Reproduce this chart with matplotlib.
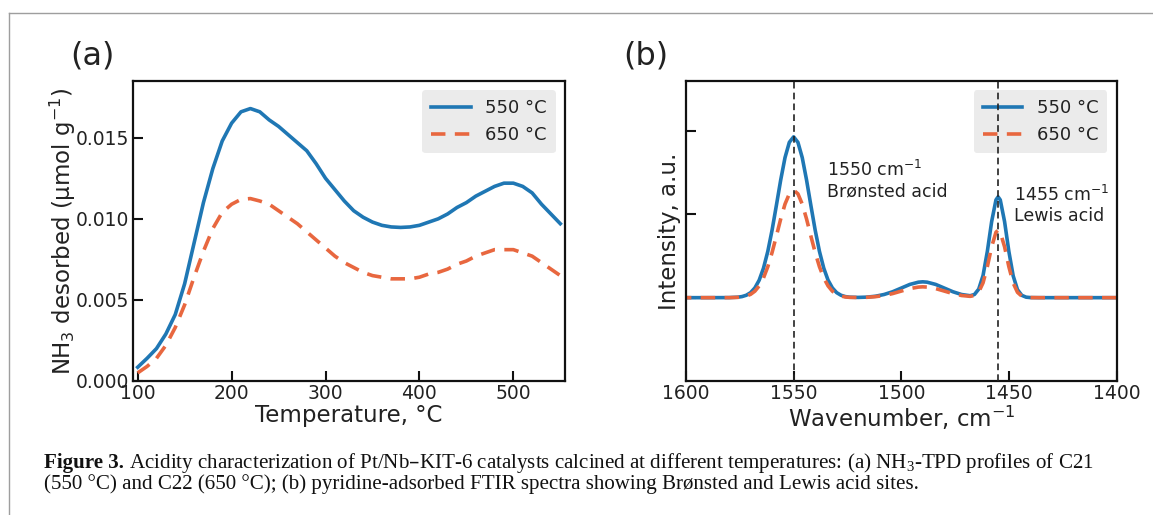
import matplotlib
matplotlib.use("Agg")
import matplotlib.pyplot as plt
from matplotlib.lines import Line2D

# ---------------- data: panel (a) NH3-TPD ----------------
temp = [100, 110, 120, 130, 140, 150, 160, 170, 180, 190, 200, 210, 220, 230,
        240, 250, 260, 270, 280, 290, 300, 310, 320, 330, 340, 350, 360, 370,
        380, 390, 400, 410, 420, 430, 440, 450, 460, 470, 480, 490, 500, 510,
        520, 530, 540, 550]
nh3_550 = [0.00085, 0.0014, 0.0020, 0.0029, 0.0041, 0.0060, 0.0085, 0.0110,
           0.0131, 0.0148, 0.0159, 0.0166, 0.0168, 0.0166, 0.0161, 0.0157,
           0.0152, 0.0147, 0.0142, 0.0134, 0.0125, 0.0118, 0.0111, 0.0105,
           0.0101, 0.0098, 0.0096, 0.0095, 0.00947, 0.0095, 0.0096, 0.0098,
           0.0100, 0.0103, 0.0107, 0.0110, 0.0114, 0.0117, 0.0120, 0.0122,
           0.0122, 0.0120, 0.0116, 0.0109, 0.0103, 0.0097]
nh3_650 = [0.0005, 0.0009, 0.0014, 0.0022, 0.0033, 0.0047, 0.0064, 0.0080,
           0.0094, 0.0104, 0.0109, 0.0112, 0.01125, 0.0111, 0.0109, 0.0105,
           0.0101, 0.0097, 0.0092, 0.0087, 0.0082, 0.0077, 0.0073, 0.0070,
           0.0067, 0.0065, 0.0064, 0.0063, 0.0063, 0.0063, 0.0064, 0.0066,
           0.0067, 0.0069, 0.0072, 0.0074, 0.0077, 0.0079, 0.0081, 0.0081,
           0.0081, 0.0079, 0.0077, 0.0073, 0.0069, 0.0065]

# ---------------- data: panel (b) pyridine FTIR ----------------
wavenumber = [1400, 1420, 1430, 1436, 1440, 1442, 1444, 1446, 1448, 1450,
              1452, 1454, 1455, 1456, 1458, 1460, 1462, 1464, 1466, 1468,
              1472, 1476, 1480, 1484, 1488, 1490, 1492, 1496, 1500, 1504,
              1508, 1512, 1516, 1520, 1524, 1526, 1528, 1530, 1532, 1534,
              1536, 1538, 1540, 1542, 1544, 1546, 1548, 1550, 1552, 1554,
              1556, 1558, 1560, 1562, 1564, 1566, 1568, 1570, 1572, 1574,
              1576, 1580, 1590, 1600]
ir_550 = [0, 0, 0, 0, 0.001, 0.006, 0.028, 0.096, 0.262, 0.554,
          0.913, 1.173, 1.21, 1.173, 0.913, 0.556, 0.266, 0.103, 0.038, 0.023,
          0.038, 0.071, 0.115, 0.159, 0.186, 0.19, 0.186, 0.159, 0.115, 0.071,
          0.038, 0.017, 0.0065, 0.003, 0.0056, 0.013, 0.029, 0.060, 0.117, 0.210,
          0.354, 0.555, 0.812, 1.109, 1.413, 1.681, 1.864, 1.93, 1.864, 1.681,
          1.413, 1.109, 0.812, 0.555, 0.354, 0.210, 0.117, 0.060, 0.029, 0.013,
          0.0056, 0.0008, 0, 0]
ir_650 = [0, 0, 0, 0, 0.001, 0.004, 0.018, 0.064, 0.175, 0.371,
          0.611, 0.785, 0.81, 0.785, 0.611, 0.372, 0.178, 0.068, 0.026, 0.016,
          0.026, 0.049, 0.079, 0.109, 0.127, 0.13, 0.127, 0.109, 0.079, 0.049,
          0.026, 0.012, 0.0044, 0.002, 0.0037, 0.0088, 0.0195, 0.040, 0.078, 0.141,
          0.237, 0.371, 0.543, 0.741, 0.945, 1.123, 1.246, 1.29, 1.246, 1.123,
          0.945, 0.741, 0.543, 0.371, 0.237, 0.141, 0.078, 0.040, 0.0195, 0.0088,
          0.0037, 0.0005, 0, 0]
band_positions = [1550, 1455]
series_labels = ["550 °C", "650 °C"]

BLUE = "#1f77b4"
ORANGE = "#e8673f"
TXT = "#222222"
DASH = (0, (4.0, 2.6))

plt.rcParams["font.family"] = ["DejaVu Sans"]
W, H = 1153, 515
fig = plt.figure(figsize=(W / 100, H / 100), dpi=100)


def style_axes(ax):
    for s in ax.spines.values():
        s.set_linewidth(1.6)
        s.set_color("#111111")
    ax.tick_params(direction="in", length=7, width=1.5, labelsize=13.5,
                   colors="#111111", labelcolor=TXT, pad=2.5)


def add_legend(ax):
    leg = ax.legend(loc="upper right", fontsize=13, frameon=True,
                    facecolor="#ebebeb", edgecolor="none", framealpha=1.0,
                    fancybox=True, handlelength=2.2, borderpad=0.5)
    for t in leg.get_texts():
        t.set_color(TXT)
    return leg


# panel (a)
axA = fig.add_axes([133 / W, 1 - 381 / H, (565 - 133) / W, 300 / H])
axA.plot(temp, nh3_550, color=BLUE, lw=2.6, label=series_labels[0])
axA.plot(temp, nh3_650, color=ORANGE, lw=2.6, ls=DASH, label=series_labels[1])
axA.set_xlim(95, 555)
axA.set_ylim(0, 0.0185)
axA.set_xticks([100, 200, 300, 400, 500])
axA.set_yticks([0.0, 0.005, 0.010, 0.015])
axA.set_yticklabels(["0.000", "0.005", "0.010", "0.015"])
axA.set_xlabel("Temperature, °C", fontsize=16.5, color=TXT, labelpad=0.5)
axA.set_ylabel("NH$_3$ desorbed (μmol g$^{-1}$)", fontsize=16.5, color=TXT, labelpad=-1)
style_axes(axA)
add_legend(axA)

# panel (b)
axB = fig.add_axes([686 / W, 1 - 381 / H, (1116.5 - 686) / W, 300 / H])
axB.plot(wavenumber, ir_550, color=BLUE, lw=2.6, label=series_labels[0])
axB.plot(wavenumber, ir_650, color=ORANGE, lw=2.6, ls=DASH, label=series_labels[1])
for b in band_positions:
    axB.axvline(b, color="#222222", lw=1.2, ls=(0, (4, 2.5)), zorder=6)
axB.set_xlim(1600, 1400)
axB.set_ylim(-1.0, 2.6)
axB.set_xticks([1600, 1550, 1500, 1450, 1400])
axB.set_yticks([0, 1, 2])
axB.set_yticklabels([])
axB.set_xlabel("Wavenumber, cm$^{-1}$", fontsize=16.5, color=TXT, labelpad=0.5)
axB.set_ylabel("Intensity, a.u.", fontsize=16.5, color=TXT, labelpad=1)
style_axes(axB)
add_legend(axB)
axB.text(1534.6, 1.65, "1550 cm$^{-1}$\nBrønsted acid", fontsize=12.5, color=TXT,
         ha="left", va="top", linespacing=1.15)
axB.text(1447.5, 1.35, "1455 cm$^{-1}$\nLewis acid", fontsize=12.5, color=TXT,
         ha="left", va="top", linespacing=1.15)

# panel letters
fig.text(70 / W, 1 - 56 / H, "(a)", fontsize=23, color=TXT, ha="left", va="center")
fig.text(623 / W, 1 - 56 / H, "(b)", fontsize=23, color=TXT, ha="left", va="center")

# page frame lines
fig.add_artist(Line2D([8.5 / W, 1.0], [1 - 13.3 / H, 1 - 13.3 / H], color="#9e9e9e",
                      lw=1.0, transform=fig.transFigure))
fig.add_artist(Line2D([8.5 / W, 8.5 / W], [0.0, 1 - 13.3 / H], color="#9e9e9e",
                      lw=1.0, transform=fig.transFigure))

# caption
cap_bold = "Figure 3."
cap1 = (" Acidity characterization of Pt/Nb–KIT-6 catalysts calcined at different "
        "temperatures: (a) NH$_\\mathregular{3}$-TPD profiles of C21")
cap2 = ("(550 °C) and C22 (650 °C); (b) pyridine-adsorbed FTIR spectra showing "
        "Brønsted and Lewis acid sites.")
x0 = 44
target_w = 1100 - 44
fs = 14
serif = ["Liberation Serif", "DejaVu Serif"]
renderer = fig.canvas.get_renderer()
tb = fig.text(x0 / W, 1 - 463 / H, cap_bold, fontsize=fs, family=serif,
              weight="bold", color="#111111", va="center", ha="left")
wb = tb.get_window_extent(renderer).width
t1 = fig.text((x0 + wb) / W, 1 - 463 / H, cap1, fontsize=fs, family=serif,
              color="#111111", va="center", ha="left")
w1 = t1.get_window_extent(renderer).width
scale = target_w / (wb + w1)
fs2 = fs * scale
tb.set_fontsize(fs2)
wb = tb.get_window_extent(renderer).width
t1.set_fontsize(fs2)
t1.set_x((x0 + wb) / W)
fig.text(x0 / W, 1 - 484 / H, cap2, fontsize=fs2, family=serif,
         color="#111111", va="center", ha="left")

fig.savefig("out.png", dpi=100)
